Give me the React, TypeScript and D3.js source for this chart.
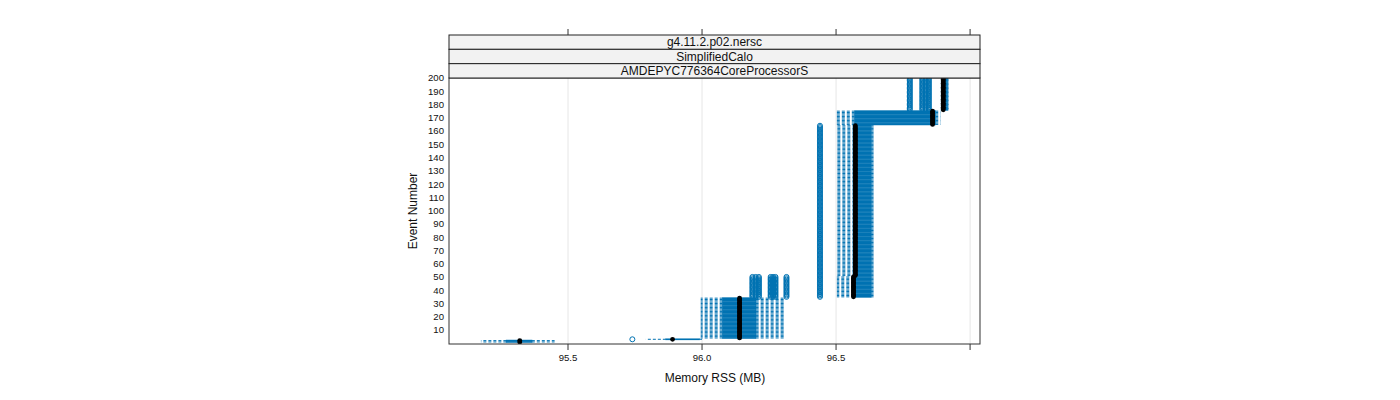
import React from "react";
import * as d3 from "d3";

// ---- data ----
const stripLabels = ["g4.11.2.p02.nersc", "SimplifiedCalo", "AMDEPYC776364CoreProcessorS"];
const groupFirstEvent = [1, 3, 4, 35, 51, 165, 176];
const groupLastEvent = [2, 3, 34, 50, 164, 175, 200];
const whiskerLow = [95.175, 95.79, 95.995, 96.503, 96.503, 96.503, 96.893];
const boxLow = [95.27, 95.865, 96.077, 96.568, 96.572, 96.57, 96.893];
const medianRSS = [95.32, 95.89, 96.14, 96.565, 96.572, 96.86, 96.9];
const boxHigh = [95.365, 95.99, 96.2, 96.63, 96.63, 96.87, 96.915];
const whiskerHigh = [95.45, 96.0, 96.31, 96.64, 96.64, 96.89, 96.92];
const outlierRSS: number[][] = [
  [],
  [95.74],
  [],
  [96.188, 96.2, 96.212, 96.256, 96.265, 96.274, 96.315, 96.44],
  [96.44],
  [],
  [96.775, 96.822, 96.834, 96.846],
];
const xTickValues = [95.5, 96.0, 96.5, 97.0];
const xTickLabels = ["95.5", "96.0", "96.5", ""];
const yTickValues = d3.range(10, 201, 10);

const BLUE = "#0072B2";
const FONT = "'Liberation Sans', Arial, sans-serif";

export default function App() {
  const left = 449, right = 980, top = 78, bottom = 344;
  const x = d3.scaleLinear().domain([95.056, 97.037]).range([left, right]);
  const y = d3.scaleLinear().domain([10, 200]).range([330, 78]);
  const step = Math.abs(y(2) - y(1));
  const boxH = step * 0.5;

  const boxes: JSX.Element[] = [];
  const whiskers: JSX.Element[] = [];
  const outs: JSX.Element[] = [];
  const meds: JSX.Element[] = [];
  groupFirstEvent.forEach((first, g) => {
    for (let e = first; e <= groupLastEvent[g]; e++) {
      const yy = y(e);
      const k = `${g}-${e}`;
      boxes.push(
        <rect key={"b" + k} x={x(boxLow[g])} y={yy - boxH / 2}
          width={Math.max(0.5, x(boxHigh[g]) - x(boxLow[g]))} height={boxH}
          fill="none" stroke={BLUE} strokeWidth={1} />
      );
      whiskers.push(
        <line key={"wl" + k} x1={x(boxLow[g])} x2={x(whiskerLow[g])} y1={yy} y2={yy}
          stroke={BLUE} strokeWidth={1} strokeDasharray="3,2" />,
        <line key={"wh" + k} x1={x(boxHigh[g])} x2={x(whiskerHigh[g])} y1={yy} y2={yy}
          stroke={BLUE} strokeWidth={1} strokeDasharray="3,2" />
      );
      outlierRSS[g].forEach((v, i) => {
        outs.push(
          <circle key={"o" + k + "-" + i} cx={x(v)} cy={yy} r={2.5}
            fill="none" stroke={BLUE} strokeWidth={1} />
        );
      });
      meds.push(<circle key={"m" + k} cx={x(medianRSS[g])} cy={yy} r={2.4} fill="black" />);
    }
  });

  const stripH = (top - 35) / 3;

  return (
    <svg width={1400} height={400} style={{ position: "absolute", left: 0, top: 0, background: "white" }}
      fontFamily={FONT}>
      <defs>
        <clipPath id="panelClip">
          <rect x={left} y={top} width={right - left} height={bottom - top} />
        </clipPath>
      </defs>
      {/* grid */}
      {xTickValues.map((v) => (
        <line key={"g" + v} x1={x(v)} x2={x(v)} y1={top} y2={bottom} stroke="#e6e6e6" strokeWidth={1} />
      ))}
      <g clipPath="url(#panelClip)">
        {boxes}
        {whiskers}
        {outs}
        {meds}
      </g>
      {/* panel border */}
      <rect x={left} y={top} width={right - left} height={bottom - top} fill="none" stroke="#333" strokeWidth={1} />
      {/* strips */}
      {stripLabels.map((s, i) => (
        <g key={s}>
          <rect x={left} y={35 + i * stripH} width={right - left} height={stripH} fill="#f2f2f2" stroke="#222" strokeWidth={1} />
          <text x={(left + right) / 2} y={35 + i * stripH + stripH / 2 + 4.3} textAnchor="middle" fontSize={12} fill="#111">{s}</text>
        </g>
      ))}
      {/* x ticks bottom and top */}
      {xTickValues.map((v, i) => (
        <g key={"xt" + v}>
          <line x1={x(v)} x2={x(v)} y1={bottom} y2={bottom + 6} stroke="#333" />
          <line x1={x(v)} x2={x(v)} y1={29} y2={35} stroke="#333" />
          {xTickLabels[i] && (
            <text x={x(v)} y={361} textAnchor="middle" fontSize={9.6} fill="#111">{xTickLabels[i]}</text>
          )}
        </g>
      ))}
      {/* y tick labels */}
      {yTickValues.map((v) => (
        <text key={"yt" + v} x={444} y={y(v) + 3.4} textAnchor="end" fontSize={9.6} fill="#111">{v}</text>
      ))}
      <text x={715} y={382} textAnchor="middle" fontSize={12} fill="#111">Memory RSS (MB)</text>
      <text transform={`translate(417,211) rotate(-90)`} textAnchor="middle" fontSize={12} fill="#111">Event Number</text>
    </svg>
  );
}
